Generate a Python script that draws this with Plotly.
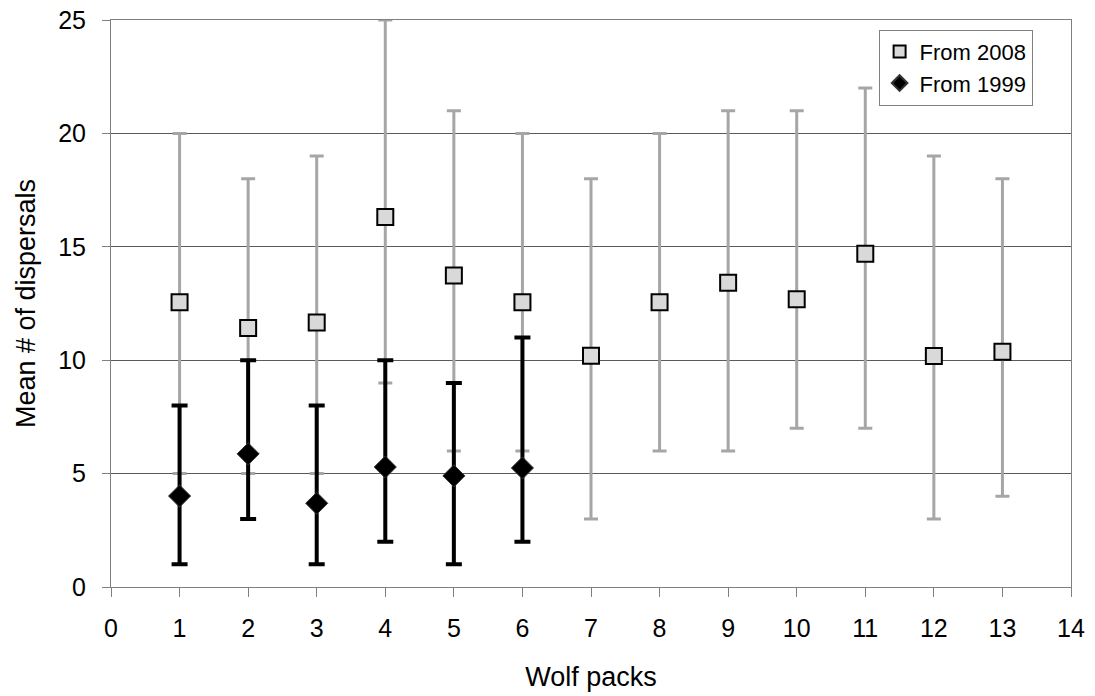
import plotly.graph_objects as go

packs_2008 = [1, 2, 3, 4, 5, 6, 7, 8, 9, 10, 11, 12, 13]
mean_2008 = [12.55, 11.42, 11.66, 16.31, 13.73, 12.55, 10.2, 12.56, 13.41, 12.69, 14.69, 10.19, 10.37]
max_2008 = [20, 18, 19, 25, 21, 20, 18, 20, 21, 21, 22, 19, 18]
min_2008 = [5, 5, 5, 9, 6, 6, 3, 6, 6, 7, 7, 3, 4]

packs_1999 = [1, 2, 3, 4, 5, 6]
mean_1999 = [4.01, 5.87, 3.69, 5.29, 4.9, 5.25]
max_1999 = [8, 10, 8, 10, 9, 11]
min_1999 = [1, 3, 1, 2, 1, 2]

x_ticks = list(range(0, 15))
y_ticks = [0, 5, 10, 15, 20, 25]

font_family = "Liberation Sans, Arial, sans-serif"

fig = go.Figure()
fig.add_trace(go.Scatter(
    x=packs_2008, y=mean_2008, mode="markers", name="From 2008",
    marker=dict(symbol="square", size=16, color="#d9d9d9",
                line=dict(color="black", width=2)),
    error_y=dict(type="data", symmetric=False,
                 array=[a - m for a, m in zip(max_2008, mean_2008)],
                 arrayminus=[m - b for m, b in zip(mean_2008, min_2008)],
                 color="#a6a6a6", thickness=3, width=7),
))
fig.add_trace(go.Scatter(
    x=packs_1999, y=mean_1999, mode="markers", name="From 1999",
    marker=dict(symbol="diamond", size=17, color="black",
                line=dict(color="#333", width=1)),
    error_y=dict(type="data", symmetric=False,
                 array=[a - m for a, m in zip(max_1999, mean_1999)],
                 arrayminus=[m - b for m, b in zip(mean_1999, min_1999)],
                 color="black", thickness=4, width=8),
))

fig.update_layout(
    width=1095, height=696,
    margin=dict(l=111, r=24, t=20, b=109),
    paper_bgcolor="white", plot_bgcolor="white",
    font=dict(family=font_family, size=25, color="black"),
    showlegend=True,
    legend=dict(x=0.960, y=0.983, xanchor="right", yanchor="top",
                bgcolor="white", bordercolor="#808080", borderwidth=1,
                font=dict(size=22), itemsizing="constant",
                tracegroupgap=0),
)
fig.update_xaxes(
    range=[0, 14], tickvals=x_ticks, ticktext=[str(v) for v in x_ticks],
    showgrid=False, zeroline=False, automargin=False,
    showline=True, linecolor="#808080", linewidth=1, mirror=True,
    ticks="outside", ticklen=9, tickcolor="#808080",
    tickfont=dict(size=25), ticklabelstandoff=10, ticklabeloverflow="allow",
    title=dict(text="Wolf packs", font=dict(size=27), standoff=26),
)
fig.update_yaxes(
    range=[0, 25], tickvals=y_ticks, ticktext=[str(v) for v in y_ticks],
    showgrid=True, gridcolor="#5a5a5a", gridwidth=1, zeroline=False, automargin=False,
    showline=True, linecolor="#808080", linewidth=1, mirror=True,
    ticks="outside", ticklen=8, tickcolor="#808080",
    tickfont=dict(size=25), ticklabelstandoff=11, ticklabeloverflow="allow",
    title=dict(text="Mean # of dispersals", font=dict(size=27), standoff=14),
)

fig.write_html("out.html", config={"displayModeBar": False},
               post_script="document.body.style.margin='0';")
